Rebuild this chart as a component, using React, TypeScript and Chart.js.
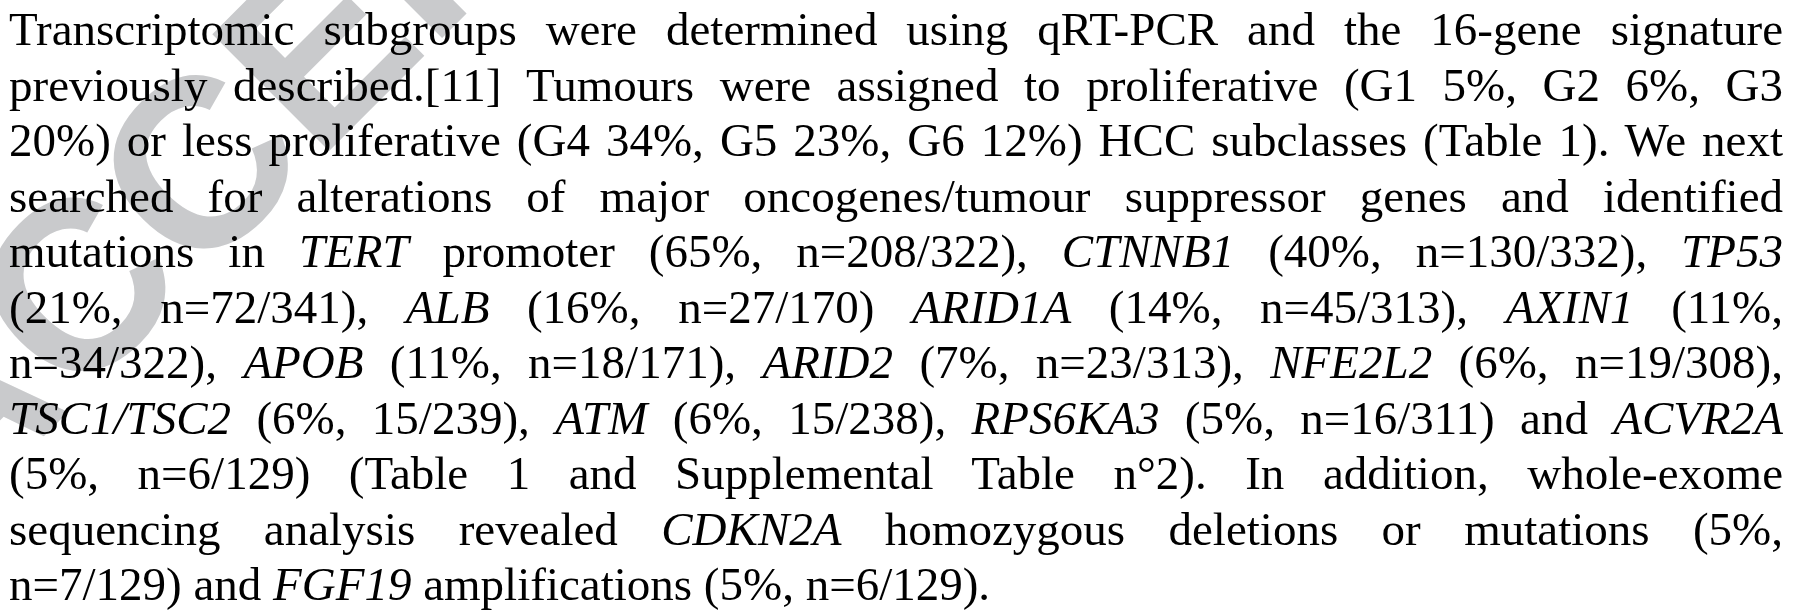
import React, { useEffect, useRef } from "react";
import { Chart, registerables } from "chart.js";
Chart.register(...registerables);

const watermarkText = "ACCEPTED";
const lines: React.ReactNode[][] = [
  ["Transcriptomic subgroups were determined using qRT-PCR and the 16-gene signature"],
  ["previously described.[11] Tumours were assigned to proliferative (G1 5%, G2 6%, G3"],
  ["20%) or less proliferative (G4 34%, G5 23%, G6 12%) HCC subclasses (Table 1). We next"],
  ["searched for alterations of major oncogenes/tumour suppressor genes and identified"],
  ["mutations in ", <i key="a">TERT</i>, " promoter (65%, n=208/322), ", <i key="b">CTNNB1</i>, " (40%, n=130/332), ", <i key="c">TP53</i>],
  ["(21%, n=72/341), ", <i key="a">ALB</i>, " (16%, n=27/170) ", <i key="b">ARID1A</i>, " (14%, n=45/313), ", <i key="c">AXIN1</i>, " (11%,"],
  ["n=34/322), ", <i key="a">APOB</i>, " (11%, n=18/171), ", <i key="b">ARID2</i>, " (7%, n=23/313), ", <i key="c">NFE2L2</i>, " (6%, n=19/308),"],
  [<i key="a">TSC1/TSC2</i>, " (6%, 15/239), ", <i key="b">ATM</i>, " (6%, 15/238), ", <i key="c">RPS6KA3</i>, " (5%, n=16/311) and ", <i key="d">ACVR2A</i>],
  ["(5%, n=6/129) (Table 1 and Supplemental Table n°2). In addition, whole-exome"],
  ["sequencing analysis revealed ", <i key="a">CDKN2A</i>, " homozygous deletions or mutations (5%,"],
  ["n=7/129) and ", <i key="a">FGF19</i>, " amplifications (5%, n=6/129)."],
];

export default function App() {
  const ref = useRef<HTMLCanvasElement>(null);
  useEffect(() => {
    const wm = {
      id: "wm",
      beforeDraw(chart: any) {
        const c = chart.ctx;
        c.save();
        c.fillStyle = "#c9cacc";
        c.font = "bold 240px 'Liberation Sans'";
        c.translate(-50, 530);
        c.rotate(-Math.PI / 4);
        c.fillText(watermarkText, 0, 0);
        c.restore();
      },
    };
    const ch = new Chart(ref.current!, {
      type: "scatter",
      data: { datasets: [{ data: [] }] },
      options: {
        animation: false,
        responsive: false,
        plugins: { legend: { display: false }, tooltip: { enabled: false } },
        scales: { x: { display: false }, y: { display: false } },
      },
      plugins: [wm],
    });
    return () => ch.destroy();
  }, []);
  return (
    <div style={{ position: "absolute", left: 0, top: 0, width: 1802, height: 616, background: "#fff" }}>
      <canvas ref={ref} width={1802} height={616} style={{ position: "absolute", left: 0, top: 0 }} />
      <div style={{ position: "absolute", left: 9, top: 2, width: 1774, fontFamily: "'Liberation Serif', serif", fontSize: 47, lineHeight: "55.5px", color: "#000" }}>
        {lines.map((l, i) => (
          <div key={i} style={{ textAlign: i === lines.length - 1 ? "left" : "justify", textAlignLast: i === lines.length - 1 ? "left" : "justify", whiteSpace: "nowrap" as any }}>
            {l}
          </div>
        ))}
      </div>
    </div>
  );
}
